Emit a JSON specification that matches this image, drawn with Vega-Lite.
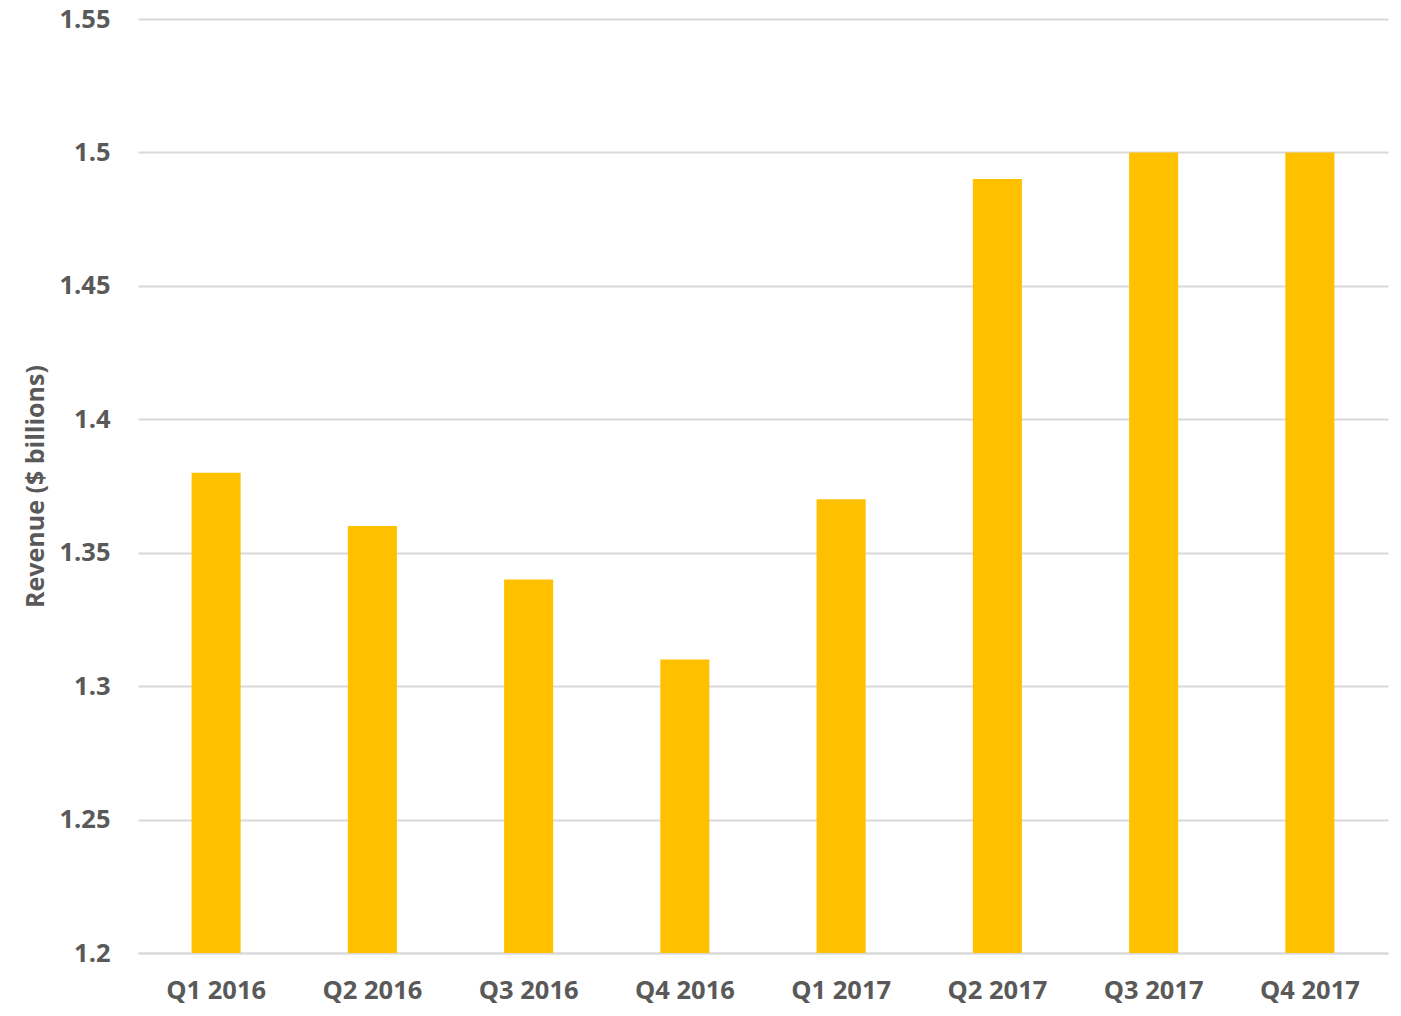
{
  "$schema": "https://vega.github.io/schema/vega-lite/v6.json",
  "autosize": {"type": "none"},
  "padding": {"left": 138, "top": 19, "right": 13, "bottom": 63},
  "width": 1250,
  "height": 934,
  "background": "white",
  "config": {
    "font": "Open Sans",
    "view": {"stroke": null}
  },
  "data": {
    "values": [
      {"quarter": "Q1 2016", "revenue": 1.38},
      {"quarter": "Q2 2016", "revenue": 1.36},
      {"quarter": "Q3 2016", "revenue": 1.34},
      {"quarter": "Q4 2016", "revenue": 1.31},
      {"quarter": "Q1 2017", "revenue": 1.37},
      {"quarter": "Q2 2017", "revenue": 1.49},
      {"quarter": "Q3 2017", "revenue": 1.50},
      {"quarter": "Q4 2017", "revenue": 1.50}
    ]
  },
  "mark": {"type": "bar", "color": "#FFC000", "clip": true},
  "encoding": {
    "x": {
      "field": "quarter",
      "type": "nominal",
      "sort": null,
      "scale": {"paddingInner": 0.686, "paddingOuter": 0.343},
      "axis": {
        "title": null,
        "labelAngle": 0,
        "labelFont": "Open Sans",
        "labelFontSize": 25.5,
        "labelFontWeight": "bold",
        "labelColor": "#595959",
        "labelPadding": 25,
        "ticks": false,
        "domainColor": "#d9d9d9",
        "domainWidth": 2
      }
    },
    "y": {
      "field": "revenue",
      "type": "quantitative",
      "scale": {"domain": [1.2, 1.55], "zero": false, "nice": false},
      "axis": {
        "title": "Revenue ($ billions)",
        "titleFont": "Open Sans",
        "titleFontSize": 25,
        "titleFontWeight": "bold",
        "titleColor": "#595959",
        "titlePadding": 10,
        "values": [1.2, 1.25, 1.3, 1.35, 1.4, 1.45, 1.5, 1.55],
        "format": "~g",
        "labelFont": "Open Sans",
        "labelFontSize": 25.5,
        "labelFontWeight": "bold",
        "labelColor": "#595959",
        "labelPadding": 28,
        "ticks": false,
        "domain": false,
        "gridColor": "#d9d9d9",
        "gridWidth": 2
      }
    }
  }
}
